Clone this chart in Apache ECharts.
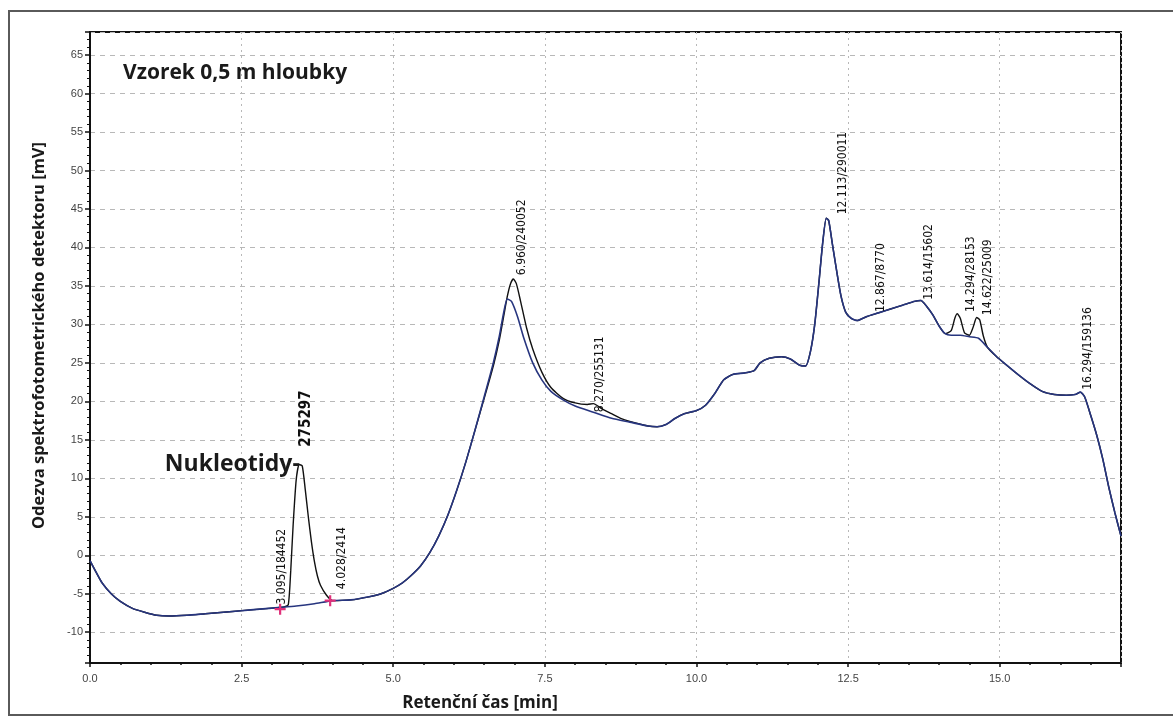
<!DOCTYPE html>
<html>
<head>
<meta charset="utf-8">
<script src="https://cdn.jsdelivr.net/npm/echarts@6/dist/echarts.min.js"></script>
<style>html,body{margin:0;padding:0;background:#fff;}#c{width:1173px;height:720px;}</style>
</head>
<body>
<div id="c"></div>
<script>
// Baseline / fitted trace (blue)
var blueTime = [0.00,0.10,0.20,0.35,0.50,0.70,0.90,1.10,1.30,1.60,1.90,2.20,2.50,2.80,3.10,3.40,3.70,4.00,4.30,4.60,4.80,5.00,5.15,5.30,5.45,5.60,5.75,5.90,6.05,6.20,6.35,6.50,6.65,6.75,6.82,6.88,6.95,7.05,7.15,7.30,7.45,7.60,7.80,8.00,8.30,8.60,8.90,9.20,9.35,9.50,9.65,9.80,10.00,10.15,10.30,10.45,10.60,10.80,10.95,11.05,11.20,11.40,11.55,11.70,11.80,11.88,11.95,12.02,12.08,12.14,12.18,12.24,12.30,12.38,12.46,12.55,12.65,12.80,13.00,13.20,13.40,13.60,13.70,13.80,13.90,14.00,14.10,14.20,14.35,14.50,14.65,14.80,14.95,15.10,15.30,15.50,15.70,15.90,16.10,16.25,16.33,16.40,16.50,16.60,16.70,16.80,16.90,17.00];
var blueValue = [-0.7,-2.2,-3.6,-5.0,-6.0,-6.9,-7.4,-7.8,-7.9,-7.8,-7.6,-7.4,-7.2,-7.0,-6.8,-6.6,-6.3,-5.9,-5.8,-5.4,-5.0,-4.3,-3.6,-2.6,-1.4,0.3,2.5,5.2,8.5,12.2,16.3,20.6,25.0,28.5,31.5,33.3,33.0,31.0,28.3,25.0,22.8,21.3,20.2,19.4,18.6,17.8,17.3,16.8,16.7,17.0,17.8,18.4,18.8,19.5,21.0,22.8,23.5,23.7,24.0,25.0,25.6,25.8,25.5,24.7,24.6,26.5,30.0,35.5,40.5,43.8,43.5,40.5,37.5,33.8,31.6,30.8,30.5,31.0,31.5,32.0,32.5,33.0,33.1,32.3,31.2,29.8,28.8,28.6,28.6,28.4,28.2,27.0,25.8,24.8,23.5,22.3,21.3,20.9,20.8,20.9,21.2,20.6,18.2,15.6,12.5,8.8,5.5,2.5];

// Sample chromatogram (black)
var blackTime = [0.00,0.10,0.20,0.35,0.50,0.70,0.90,1.10,1.30,1.60,1.90,2.20,2.50,2.80,3.10,3.20,3.27,3.31,3.35,3.40,3.45,3.50,3.55,3.60,3.65,3.70,3.75,3.80,3.90,4.00,4.30,4.60,4.80,5.00,5.15,5.30,5.45,5.60,5.75,5.90,6.05,6.20,6.35,6.50,6.65,6.75,6.82,6.88,6.93,6.98,7.03,7.10,7.20,7.30,7.45,7.60,7.80,8.00,8.20,8.30,8.45,8.60,8.75,8.90,9.20,9.35,9.50,9.65,9.80,10.00,10.15,10.30,10.45,10.60,10.80,10.95,11.05,11.20,11.40,11.55,11.70,11.80,11.88,11.95,12.02,12.08,12.14,12.18,12.24,12.30,12.38,12.46,12.55,12.65,12.80,13.00,13.20,13.40,13.60,13.70,13.80,13.90,14.00,14.10,14.20,14.26,14.30,14.35,14.42,14.50,14.56,14.62,14.67,14.73,14.80,14.95,15.10,15.30,15.50,15.70,15.90,16.10,16.25,16.33,16.40,16.50,16.60,16.70,16.80,16.90,17.00];
var blackValue = [-0.7,-2.2,-3.6,-5.0,-6.0,-6.9,-7.4,-7.8,-7.9,-7.8,-7.6,-7.4,-7.2,-7.0,-6.8,-6.7,-6.4,-2.0,4.0,9.8,11.8,11.6,8.5,5.0,1.8,-0.8,-2.7,-3.9,-5.2,-5.9,-5.8,-5.4,-5.0,-4.3,-3.6,-2.6,-1.4,0.3,2.5,5.2,8.5,12.2,16.3,20.4,24.6,28.0,31.0,33.6,35.2,35.9,35.3,33.0,29.5,26.8,23.8,21.8,20.4,19.8,19.6,19.7,19.0,18.4,17.8,17.4,16.8,16.7,17.0,17.8,18.4,18.8,19.5,21.0,22.8,23.5,23.7,24.0,25.0,25.6,25.8,25.5,24.7,24.6,26.5,30.0,35.5,40.5,43.8,43.5,40.5,37.5,33.8,31.6,30.8,30.5,31.0,31.5,32.0,32.5,33.0,33.1,32.3,31.2,29.8,28.8,29.2,30.8,31.4,30.8,28.9,28.6,29.6,30.9,30.6,28.5,27.0,25.8,24.8,23.5,22.3,21.3,20.9,20.8,20.9,21.2,20.6,18.2,15.6,12.5,8.8,5.5,2.5];

// Peak annotations (retention time / area), anchored at time and height of text start
var peakLabels = ["3.095/184452","4.028/2414","6.960/240052","8.270/255131","12.113/290011","12.867/8770","13.614/15602","14.294/28153","14.622/25009","16.294/159136"];
var peakLabelTime = [3.17,4.15,7.12,8.40,12.42,13.04,13.83,14.52,14.80,16.45];
var peakLabelHeight = [-6.4,-4.4,36.4,18.6,44.3,31.6,33.2,31.6,31.2,21.5];

var mainPeakLabel = ["275297"];
var mainPeakTime = [3.56];
var mainPeakHeight = [14.1];

// Integration markers (red crosses)
var markerTime = [3.135,3.96];
var markerValue = [-7.0,-5.9];

var xTickLabels = ["0.0","2.5","5.0","7.5","10.0","12.5","15.0"];
var yTicks = [-10,-5,0,5,10,15,20,25,30,35,40,45,50,55,60,65];

function zip(a,b){var r=[];for(var i=0;i<a.length;i++){r.push([a[i],b[i]]);}return r;}
function zip3(a,b,c){var r=[];for(var i=0;i<a.length;i++){r.push([a[i],b[i],c[i]]);}return r;}

var chart = echarts.init(document.getElementById('c'), null, {renderer:'canvas'});
var option = {
  animation: false,
  backgroundColor: '#fff',
  grid: {left: 90, right: 52, top: 32, bottom: 57, show: true, borderColor: '#111', borderWidth: 2, backgroundColor: 'transparent'},
  graphic: [
    {type: 'rect', z: -10, shape: {x: 9, y: 11, width: 1200, height: 704}, style: {fill: 'none', stroke: '#5a5a5a', lineWidth: 2}},
    {type: 'text', x: 123, y: 73, style: {text: 'Vzorek 0,5 m hloubky', font: 'bold 21px "Open Sans"', fill: '#1a1a1a', verticalAlign: 'middle'}},
    {type: 'text', x: 480, y: 703, style: {text: 'Retenční čas [min]', font: 'bold 17px "Open Sans"', fill: '#1a1a1a', align: 'center', verticalAlign: 'middle'}}
  ],
  xAxis: {
    type: 'value', min: 0, max: 17, interval: 2.5,
    axisLine: {show: true, onZero: false, lineStyle: {color: '#111', width: 2}},
    axisTick: {show: true, length: 4, lineStyle: {color: '#111', width: 1.5}},
    minorTick: {show: true, splitNumber: 5, length: 2, lineStyle: {color: '#111', width: 1.5}},
    axisLabel: {color: '#444', fontSize: 11, fontFamily: 'Liberation Sans', margin: 10, showMaxLabel: false,
      formatter: function(v){ var i = Math.round(v/2.5); return (Math.abs(v - i*2.5) < 1e-6 && xTickLabels[i]) ? xTickLabels[i] : ''; }},
    splitLine: {show: true, lineStyle: {color: '#b8b8b8', type: [2,4], width: 1}}
  },
  yAxis: {
    type: 'value', min: -14, max: 68, splitNumber: 16, minInterval: 5, maxInterval: 5,
    name: 'Odezva spektrofotometrického detektoru [mV]', nameLocation: 'middle', nameGap: 42,
    nameTextStyle: {fontWeight: 'bold', fontSize: 16.5, fontFamily: 'Open Sans', color: '#1a1a1a', padding: [0, 0, 0, 24]},
    axisLine: {show: true, onZero: false, lineStyle: {color: '#111', width: 2}},
    axisTick: {show: true, length: 5, lineStyle: {color: '#111', width: 1.5}},
    minorTick: {show: true, splitNumber: 5, length: 3, lineStyle: {color: '#111', width: 1}},
    axisLabel: {color: '#444', fontSize: 11, fontFamily: 'Liberation Sans', margin: 7, showMinLabel: false, showMaxLabel: false,
      formatter: function(v){ return yTicks.indexOf(Math.round(v)) >= 0 && Math.abs(v - Math.round(v)) < 1e-6 ? String(Math.round(v)) : ''; }},
    splitLine: {show: true, lineStyle: {color: '#b8b8b8', type: [5,5], width: 1}}
  },
  series: [
    {type: 'line', name: 'vzorek', data: zip(blackTime, blackValue), showSymbol: false, smooth: 0.2,
      lineStyle: {color: '#111', width: 1.4}, z: 3},
    {type: 'line', name: 'baseline', data: zip(blueTime, blueValue), showSymbol: false, smooth: 0.2,
      lineStyle: {color: '#27357f', width: 1.6}, z: 4},
    {type: 'scatter', data: zip3(peakLabelTime, peakLabelHeight, peakLabels), symbolSize: 0, z: 6,
      itemStyle: {opacity: 1},
      label: {show: true, position: [0,0], rotate: 90, align: 'left', verticalAlign: 'middle',
        formatter: function(p){return p.data[2];}, fontFamily: 'DejaVu Sans Condensed', fontSize: 12, color: '#111'}},
    {type: 'scatter', data: zip3(mainPeakTime, mainPeakHeight, mainPeakLabel), symbolSize: 0, z: 6,
      itemStyle: {opacity: 1},
      label: {show: true, position: [0,0], rotate: 90, align: 'left', verticalAlign: 'middle',
        formatter: function(p){return p.data[2];}, fontFamily: 'DejaVu Sans Condensed', fontWeight: 'bold', fontSize: 15, color: '#111'}},
    {type: 'scatter', data: [[3.46, 11.8]], symbolSize: 0, z: 6,
      itemStyle: {opacity: 1},
      label: {show: true, position: [0,0], align: 'right', verticalAlign: 'middle', formatter: 'Nukleotidy-',
        fontFamily: 'Open Sans', fontWeight: 'bold', fontSize: 23, color: '#1a1a1a', textBorderWidth: 0}},
    {type: 'scatter', data: zip(markerTime, markerValue), z: 7,
      symbol: 'path://M4,0H6V4H10V6H6V10H4V6H0V4H4Z', symbolSize: 11,
      itemStyle: {color: '#e0307a', opacity: 1}}
  ]
};
chart.setOption(option);
</script>
</body>
</html>
